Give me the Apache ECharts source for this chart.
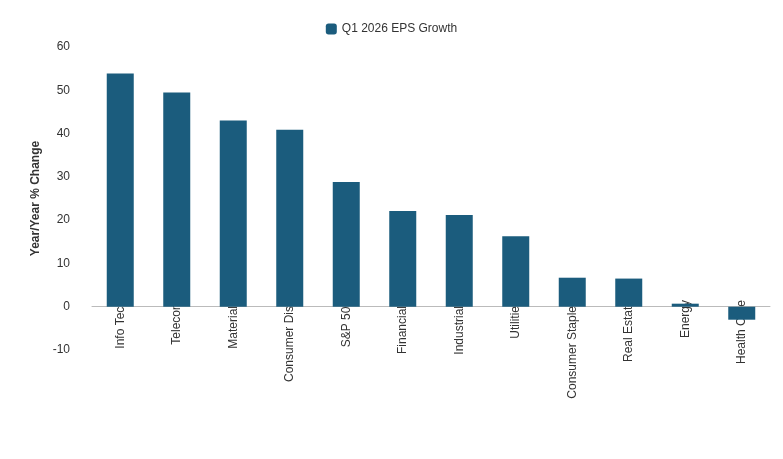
<!DOCTYPE html>
<html><head><meta charset="utf-8">
<script src="https://cdn.jsdelivr.net/npm/echarts@6/dist/echarts.min.js"></script>
<style>html,body{margin:0;padding:0;background:#fff}#c{width:783px;height:459px}</style>
</head><body><div id="c"></div>
<script>
const categories = ["Info Tech","Telecom","Materials","Consumer Disc","S&P 500","Financials","Industrials","Utilities","Consumer Staples","Real Estate","Energy","Health Care"];
const growth = [53.9,49.5,43.0,40.9,28.8,22.1,21.2,16.3,6.7,6.5,0.7,-3.0];
const chart = echarts.init(document.getElementById('c'));
chart.setOption({
  animation:false,
  textStyle:{fontFamily:'Liberation Sans, Arial'},
  legend:{top:18,left:'center',itemWidth:11,itemHeight:11,textStyle:{fontSize:12,color:'#333'},data:['Q1 2026 EPS Growth']},
  grid:{left:92,right:13,top:47,bottom:109,containLabel:false},
  xAxis:{type:'category',data:categories,
    axisLine:{onZero:true,lineStyle:{color:'#bbb'}},axisTick:{show:false},
    axisLabel:{rotate:90,fontSize:12,color:'#333',interval:0,margin:-50}},
  yAxis:{type:'value',min:-10,max:60,interval:10,name:'Year/Year % Change',nameLocation:'middle',nameGap:50,
    nameTextStyle:{fontSize:12,fontWeight:'bold',color:'#333'},
    axisLine:{show:false},axisTick:{show:false},splitLine:{show:false},
    axisLabel:{fontSize:12,color:'#333',margin:22}},
  series:[{name:'Q1 2026 EPS Growth',type:'bar',data:growth,barWidth:27,itemStyle:{color:'#1b5c7d'}}]
});
</script></body></html>
